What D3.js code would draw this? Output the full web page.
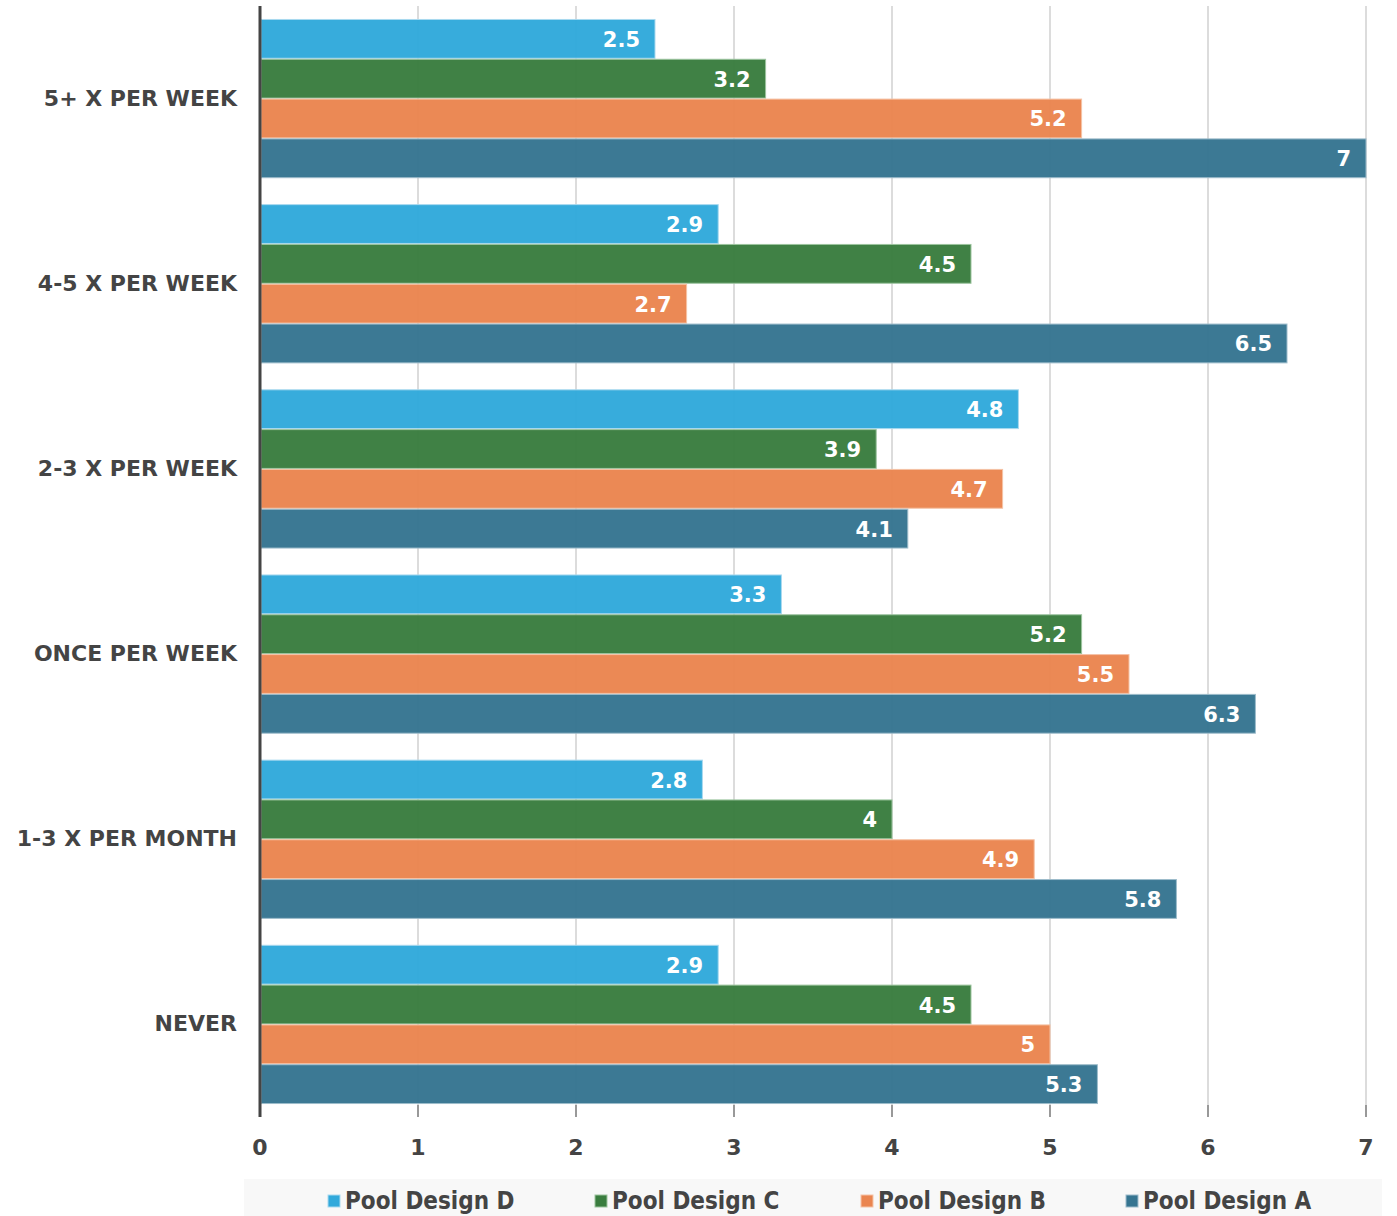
<!DOCTYPE html>
<html><head><meta charset="utf-8">
<script src="https://cdn.jsdelivr.net/npm/d3@7"></script>
<style>body{margin:0;background:#fff}svg{display:block}</style>
</head><body>
<script>
const categories = ["5+ X PER WEEK","4-5 X PER WEEK","2-3 X PER WEEK","ONCE PER WEEK","1-3 X PER MONTH","NEVER"];
const seriesNames = ["Pool Design D","Pool Design C","Pool Design B","Pool Design A"];
const designD = [2.5,2.9,4.8,3.3,2.8,2.9];
const designC = [3.2,4.5,3.9,5.2,4.0,4.5];
const designB = [5.2,2.7,4.7,5.5,4.9,5.0];
const designA = [7.0,6.5,4.1,6.3,5.8,5.3];
const tickValues = [0,1,2,3,4,5,6,7];
const colors = ["#31a9db","#3a7d3f","#ea8550","#367591"];
const strokes = ["#a9d9ef","#9cc49e","#f5c2a5","#9dbccb"];

const seriesValues = [designD, designC, designB, designA];
const W = 1397, H = 1216;
const svg = d3.select("body").append("svg").attr("width", W).attr("height", H);
const mLeft = 260, mRight = 1366, mTop = 6, mBottom = 1117;
const x = d3.scaleLinear().domain([0,7]).range([mLeft,mRight]);
const y = d3.scaleBand().domain(categories).range([mTop,mBottom]).paddingInner(0.14).paddingOuter(0.07);
const ys = d3.scaleBand().domain(seriesNames).range([0,y.bandwidth()]).padding(0);

// grid
svg.append("g").selectAll("line").data(tickValues.slice(1)).join("line")
  .attr("x1", d=>x(d)).attr("x2", d=>x(d)).attr("y1", mTop).attr("y2", mBottom)
  .attr("stroke", "#dcdcdc").attr("stroke-width", 2);
// tick marks
svg.append("g").selectAll("line").data(tickValues.slice(1)).join("line")
  .attr("x1", d=>x(d)).attr("x2", d=>x(d)).attr("y1", mBottom-12).attr("y2", mBottom)
  .attr("stroke", "#999").attr("stroke-width", 2);

// bars
const gBars = svg.append("g");
categories.forEach((c, ci) => {
  seriesNames.forEach((s, si) => {
    const v = seriesValues[si][ci];
    const yy = y(c) + ys(s);
    gBars.append("rect")
      .attr("x", x(0)+1).attr("y", yy+0.5)
      .attr("width", x(v)-x(0)-1).attr("height", ys.bandwidth()-1)
      .attr("fill", colors[si]).attr("fill-opacity", 0.97)
      .attr("stroke", strokes[si]).attr("stroke-width", 1);
    gBars.append("text")
      .attr("x", x(v)-15).attr("y", yy + ys.bandwidth()/2 + 2)
      .attr("text-anchor","end").attr("dominant-baseline","middle")
      .attr("fill","#fff").attr("font-family","DejaVu Sans").attr("font-weight","bold")
      .attr("font-size", 21).text(d3.format("")(v));
  });
});

// y axis line
svg.append("line").attr("x1", mLeft).attr("x2", mLeft).attr("y1", mTop).attr("y2", mBottom)
  .attr("stroke","#444").attr("stroke-width",3);

// category labels
svg.append("g").selectAll("text").data(categories).join("text")
  .attr("x", 237).attr("y", d=>y(d)+y.bandwidth()/2 + 1)
  .attr("text-anchor","end").attr("dominant-baseline","middle")
  .attr("fill","#444").attr("font-family","DejaVu Sans").attr("font-weight","bold")
  .attr("font-size",22).text(d=>d);

// x tick labels
svg.append("g").selectAll("text").data(tickValues).join("text")
  .attr("x", d=>x(d)).attr("y", 1149)
  .attr("text-anchor","middle").attr("dominant-baseline","middle")
  .attr("fill","#444").attr("font-family","DejaVu Sans").attr("font-weight","bold")
  .attr("font-size",22).text(d=>d);

// legend
svg.append("rect").attr("x",244).attr("y",1179).attr("width",1138).attr("height",37).attr("fill","#f8f8f8");
const legX = [328, 595, 861, 1126];
const lg = svg.append("g").selectAll("g").data(seriesNames).join("g")
  .attr("transform",(d,i)=>`translate(${legX[i]},1201)`);
lg.append("rect").attr("x",0).attr("y",-6).attr("width",12).attr("height",12)
  .attr("fill",(d,i)=>colors[i]).attr("stroke",(d,i)=>strokes[i]).attr("stroke-width",1);
lg.append("text").attr("x",17).attr("y",1).attr("dominant-baseline","middle")
  .attr("fill","#444").attr("font-family","DejaVu Sans Condensed, DejaVu Sans").attr("font-weight","bold")
  .attr("font-size",24).text(d=>d);
</script>
</body></html>
